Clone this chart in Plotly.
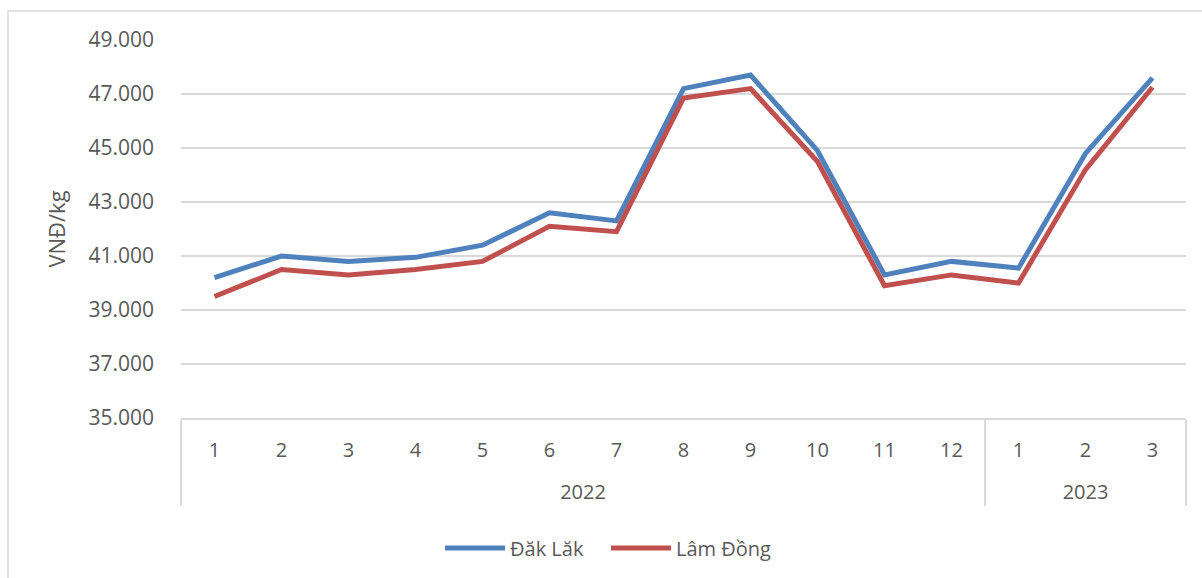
import plotly.graph_objects as go

years = ["2022"] * 12 + ["2023"] * 3
months = [str(m) for m in range(1, 13)] + ["1", "2", "3"]
dak_lak = [40200, 41000, 40800, 40950, 41400, 42600, 42300, 47200, 47700, 44900,
           40300, 40800, 40550, 44800, 47600]
lam_dong = [39500, 40500, 40300, 40500, 40800, 42100, 41900, 46850, 47200, 44500,
            39900, 40300, 40000, 44200, 47250]
series_names = ["Đăk Lăk", "Lâm Đồng"]
y_ticks = list(range(35000, 49001, 2000))

FONT = "Open Sans"
TXT = "#595959"
GRID = "#d9d9d9"
FS = 20

# outer level labels pushed one line down (spacing only)
year_labels = ["<br>" + y for y in years]
x_cat = [year_labels, months]

fig = go.Figure()
fig.add_trace(go.Scatter(x=x_cat, y=dak_lak, name=series_names[0], mode="lines",
                         line=dict(color="#4f81bd", width=5)))
fig.add_trace(go.Scatter(x=x_cat, y=lam_dong, name=series_names[1], mode="lines",
                         line=dict(color="#c0504d", width=5)))

W, H = 1202, 578
L, R, T, B = 181, 16, 40, 159
pw, ph = W - L - R, H - T - B

def px_x(x):
    return (x - L) / pw

def px_y(y):
    return (H - B - y) / ph

fig.add_shape(type="rect", xref="paper", yref="paper",
              x0=px_x(8), x1=px_x(1215), y0=px_y(590), y1=px_y(11),
              line=dict(color=GRID, width=1.5), fillcolor="rgba(0,0,0,0)", layer="below")

fig.update_layout(
    width=W, height=H,
    margin=dict(l=L, r=R, t=T, b=B),
    paper_bgcolor="white", plot_bgcolor="white",
    separators=",.",
    font=dict(family=FONT, color=TXT, size=FS),
    showlegend=True,
    legend=dict(orientation="h", x=px_x(440), xanchor="left", y=px_y(548), yanchor="middle",
                font=dict(size=FS, color=TXT), itemwidth=60,
                entrywidth=91, entrywidthmode="pixels"),
    xaxis=dict(type="multicategory", range=[-0.5, 14.5], showline=True, linecolor=GRID,
               linewidth=1.5, showgrid=False, showdividers=True, dividercolor=GRID,
               dividerwidth=1.5, tickfont=dict(size=FS, color=TXT),
               ticklabelstandoff=13),
    yaxis=dict(range=[35000, 49000], tickvals=y_ticks, tickformat=",.0f",
               showgrid=True, gridcolor=GRID, gridwidth=1.5, zeroline=False,
               tickfont=dict(size=21, color=TXT), ticklabelstandoff=26,
               title=dict(text="VNĐ/kg", font=dict(size=22, color=TXT), standoff=16)),
)

fig.write_html("out.html", config={"displayModeBar": False},
               post_script="document.body.style.margin='0';")
